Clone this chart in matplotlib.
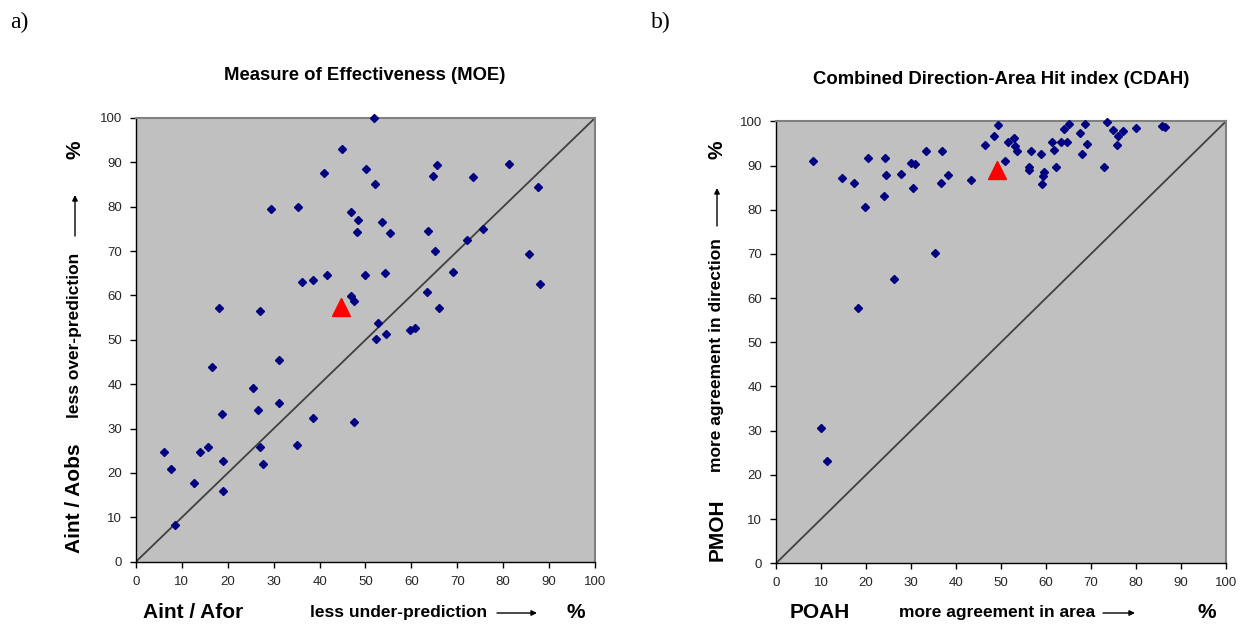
import matplotlib.pyplot as plt

plt.rcParams['font.family'] = ['Liberation Sans', 'DejaVu Sans']

# panel a) - Aint/Afor vs Aint/Aobs (%)
moe_x = [6.2, 7.6, 12.6, 8.6, 14.0, 15.6, 18.9, 18.9, 18.7, 16.5, 25.4, 26.5,
         31.1, 31.1, 27.1, 27.6, 35.0, 38.6, 47.4,
         44.9, 41.0, 50.2, 29.5, 35.2, 46.8, 48.4, 48.1, 41.6, 38.6, 36.2,
         50.0, 46.8, 47.6, 18.0, 27.1,
         51.9, 65.6, 64.8, 73.5, 81.2, 87.5, 52.1, 53.7, 55.3, 63.7, 75.6,
         72.1, 65.1, 85.6, 54.2, 69.0, 88.0, 63.5, 66.0, 52.7, 54.5, 59.7,
         60.8, 52.3]
moe_y = [24.8, 21.0, 17.7, 8.3, 24.8, 25.9, 22.7, 15.9, 33.2, 43.8, 39.2, 34.3,
         45.4, 35.7, 25.9, 22.1, 26.4, 32.4, 31.6,
         93.1, 87.5, 88.5, 79.6, 79.9, 78.8, 76.9, 74.4, 64.7, 63.5, 63.1,
         64.7, 59.8, 58.8, 57.1, 56.5,
         100.0, 89.4, 86.9, 86.6, 89.6, 84.5, 85.1, 76.6, 74.1, 74.5, 75.0,
         72.6, 70.1, 69.3, 65.0, 65.2, 62.5, 60.7, 57.1, 53.8, 51.4, 52.2,
         52.7, 50.1]
moe_mean = (44.7, 57.4)

# panel b) - POAH vs PMOH (%)
cdah_x = [18.2, 9.9, 11.3,
          8.3, 14.7, 17.4, 20.5, 24.3, 24.5, 27.7, 24.0, 19.8, 30.1, 30.9,
          30.4, 33.3, 36.9, 38.2, 36.7, 43.4, 35.3, 26.3, 46.4, 48.4, 49.3,
          50.8, 51.5, 52.8, 53.2, 53.6, 56.7, 58.8, 56.2, 56.2, 59.6, 59.3,
          59.1, 61.3, 61.8, 62.3, 63.3, 64.7, 63.9, 65.2, 67.6, 68.7, 69.2,
          67.9, 72.9, 73.5, 74.8, 76.1, 77.1, 75.8, 80.1, 85.7, 86.5]
cdah_y = [57.7, 30.5, 23.2,
          91.1, 87.2, 86.0, 91.6, 91.6, 87.9, 88.1, 83.2, 80.7, 90.6, 90.3,
          84.8, 93.3, 93.3, 87.8, 86.0, 86.8, 70.2, 64.3, 94.6, 96.7, 99.2,
          91.1, 95.4, 96.2, 94.3, 93.2, 93.3, 92.7, 89.7, 88.9, 88.5, 87.7,
          85.9, 95.4, 93.4, 89.7, 95.4, 95.4, 98.3, 99.5, 97.4, 99.5, 94.9,
          92.7, 89.7, 99.8, 98.1, 96.7, 97.9, 94.6, 98.5, 99.0, 98.6]
cdah_mean = (49.1, 88.9)

ticks = list(range(0, 101, 10))


def desenhar_painel(ax, xs, ys, media):
    ax.set_facecolor('#c0c0c0')
    ax.plot([0, 100], [0, 100], color='#404040', lw=1.3, zorder=2)
    ax.plot(xs, ys, ls='none', marker='D', ms=4.5, color='#000080',
            mec='#000080', clip_on=False, zorder=3)
    ax.plot([media[0]], [media[1]], ls='none', marker='^', ms=13,
            color='#ff0000', mec='#ff0000', clip_on=False, zorder=4)
    ax.set_xlim(0, 100)
    ax.set_ylim(0, 100)
    ax.set_xticks(ticks)
    ax.set_yticks(ticks)
    ax.tick_params(direction='out', length=4, width=1, labelsize=9.5,
                   labelcolor='#262626', pad=6)
    for lado in ['top', 'right']:
        ax.spines[lado].set_color('#808080')
        ax.spines[lado].set_linewidth(1.5)
    for lado in ['left', 'bottom']:
        ax.spines[lado].set_color('black')
        ax.spines[lado].set_linewidth(1.0)


fig = plt.figure(figsize=(12.44, 6.24), dpi=100)
ax1 = fig.add_axes([0.1093, 0.0998, 0.3690, 0.7111])
ax2 = fig.add_axes([0.6238, 0.0973, 0.3617, 0.7083])

desenhar_painel(ax1, moe_x, moe_y, moe_mean)
desenhar_painel(ax2, cdah_x, cdah_y, cdah_mean)

W, H = 1244, 624


def txt(x, y, s, **kw):
    fig.text(x / W, 1 - y / H, s, ha='center', va='center', **kw)


def seta(x0, y0, x1, y1):
    fig.add_artist(plt.Annotation(
        '', xy=(x1 / W, 1 - y1 / H), xytext=(x0 / W, 1 - y0 / H),
        xycoords='figure fraction', textcoords='figure fraction',
        arrowprops=dict(arrowstyle='-|>', color='black', lw=1.0,
                        mutation_scale=8, shrinkA=0, shrinkB=0)))


# letras dos paineis
txt(19, 22, 'a)', family='Liberation Serif', fontsize=17)
txt(661, 22, 'b)', family='Liberation Serif', fontsize=17)

# titulos
txt(365, 75, 'Measure of Effectiveness (MOE)', fontsize=13.3,
    fontweight='bold')
txt(1001, 79, 'Combined Direction-Area Hit index (CDAH)', fontsize=13.3,
    fontweight='bold')

# painel a - eixos
txt(193, 613, 'Aint / Afor', fontsize=15, fontweight='bold')
txt(399, 613, 'less under-prediction', fontsize=12.5, fontweight='bold')
seta(497, 613, 537, 613)
txt(576, 613, '%', fontsize=15, fontweight='bold')
txt(75, 498, 'Aint / Aobs', fontsize=15, fontweight='bold', rotation=90)
txt(75, 335, 'less over-prediction', fontsize=12.5, fontweight='bold',
    rotation=90)
seta(75, 236, 75, 195)
txt(75, 150, '%', fontsize=15, fontweight='bold', rotation=90)

# painel b - eixos
txt(820, 613, 'POAH', fontsize=15, fontweight='bold')
txt(997, 613, 'more agreement in area', fontsize=12.5, fontweight='bold')
seta(1103, 613, 1135, 613)
txt(1207, 613, '%', fontsize=15, fontweight='bold')
txt(717, 530, 'PMOH', fontsize=15, fontweight='bold', rotation=90)
txt(717, 355, 'more agreement in direction', fontsize=12.5, fontweight='bold',
    rotation=90)
seta(717, 226, 717, 188)
txt(717, 150, '%', fontsize=15, fontweight='bold', rotation=90)

fig.savefig('out.png', dpi=100)
